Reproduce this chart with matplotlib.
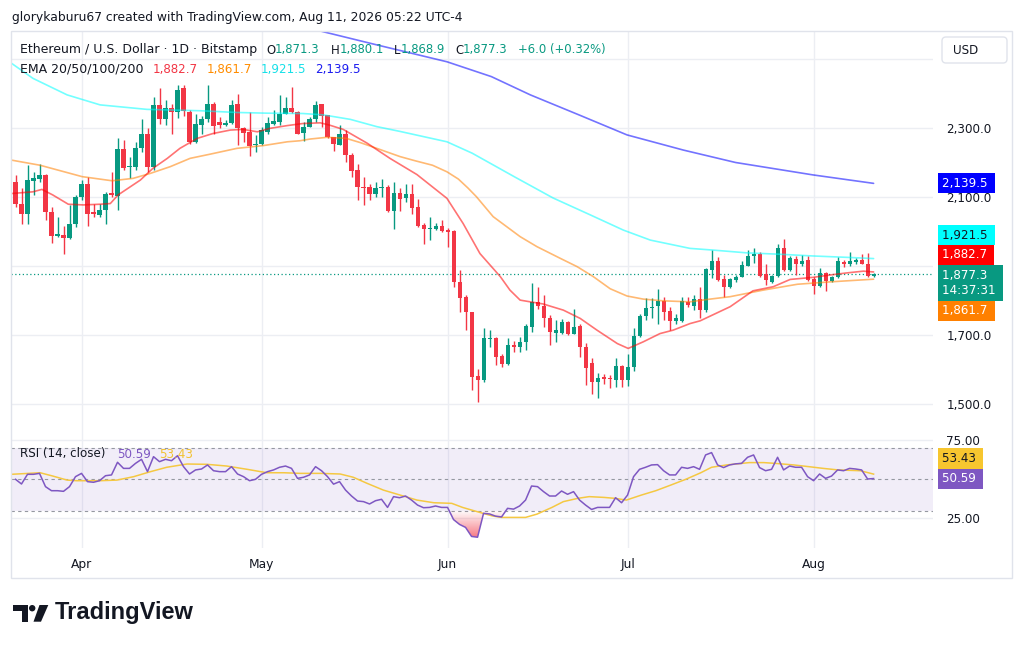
import numpy as np
import pandas as pd
import matplotlib
matplotlib.use("Agg")
import matplotlib.pyplot as plt
from matplotlib import transforms
from matplotlib.patches import Rectangle, Polygon, Circle, FancyBboxPatch
from matplotlib.colors import LinearSegmentedColormap
from matplotlib.path import Path

# ---------------- data ----------------
start_date = "2026-03-21"

opens = [2144,2081,2052,2146,2151,2165,2057,1987,1990,1980,
         2021,2101,2138,2057,2047,2062,2111,2103,2239,2186,
         2186,2243,2284,2188,2367,2325,2357,2347,2415,2347,
         2258,2310,2325,2371,2318,2308,2315,2369,2299,2289,
         2251,2253,2289,2313,2318,2342,2357,2347,2286,2304,
         2325,2369,2337,2273,2251,2283,2222,2178,2130,2128,
         2108,2125,2130,2060,2112,2096,2110,2070,2019,2006,
         2007,2016,2004,2002,1854,1811,1767,1582,1569,1687,
         1690,1639,1617,1672,1664,1680,1724,1796,1785,1750,
         1706,1707,1738,1703,1727,1666,1619,1564,1577,1574,
         1569,1610,1569,1608,1697,1755,1777,1784,1799,1769,
         1741,1741,1796,1784,1804,1772,1888,1915,1862,1838,
         1859,1869,1901,1929,1934,1876,1854,1871,1951,1888,
         1919,1905,1917,1861,1842,1880,1856,1867,1912,1906,
         1912,1916,1907,1871.3]
highs = [2164,2125,2193,2173,2196,2168,2072,2043,2016,2077,
         2106,2149,2159,2081,2081,2115,2173,2270,2265,2217,
         2260,2325,2299,2391,2415,2381,2371,2425,2424,2352,
         2342,2335,2424,2376,2333,2323,2381,2400,2304,2347,
         2279,2304,2333,2352,2395,2391,2420,2350,2318,2333,
         2379,2371,2339,2275,2308,2294,2227,2197,2159,2139,
         2144,2151,2135,2144,2125,2139,2139,2093,2024,2041,
         2024,2033,2009,2004,1888,1816,1767,1600,1719,1714,
         1695,1644,1690,1683,1695,1731,1850,1838,1816,1758,
         1743,1745,1741,1774,1731,1676,1632,1591,1588,1584,
         1632,1612,1645,1719,1761,1806,1806,1832,1809,1782,
         1762,1811,1811,1816,1840,1893,1946,1927,1874,1864,
         1874,1914,1946,1951,1941,1905,1874,1965,1977,1929,
         1929,1932,1929,1869,1893,1883,1871,1925,1917,1941,
         1922,1936,1938,1880.1]
lows = [2072,2023,2023,2106,2144,2033,1966,1985,1936,1978,
        2014,2091,2017,2043,2043,2022,2101,2062,2178,2154,
        2178,2231,2173,2178,2313,2309,2284,2330,2335,2255,
        2257,2284,2318,2284,2300,2305,2313,2251,2260,2219,
        2231,2251,2284,2308,2308,2342,2344,2282,2262,2302,
        2318,2302,2270,2234,2250,2202,2159,2091,2077,2091,
        2101,2101,2057,2006,2060,2086,2052,2014,1965,1975,
        2004,1999,1956,1840,1767,1714,1540,1506,1564,1666,
        1612,1606,1612,1651,1651,1656,1709,1775,1724,1670,
        1680,1704,1700,1702,1637,1554,1530,1516,1559,1545,
        1550,1550,1552,1596,1693,1743,1748,1732,1743,1714,
        1731,1738,1782,1772,1748,1767,1864,1856,1811,1835,
        1854,1867,1900,1908,1869,1845,1851,1869,1886,1886,
        1874,1901,1856,1820,1840,1828,1853,1864,1898,1901,
        1907,1905,1869,1868.9]
closes = [2081,2050,2149,2156,2165,2057,1987,1992,1980,2021,
          2101,2138,2052,2052,2062,2108,2106,2239,2183,2189,
          2243,2284,2188,2367,2325,2357,2347,2410,2350,2258,
          2313,2325,2371,2305,2308,2314,2367,2299,2286,2249,
          2255,2294,2315,2321,2342,2357,2347,2284,2304,2325,
          2367,2335,2273,2255,2283,2221,2176,2128,2125,2108,
          2125,2130,2060,2112,2093,2110,2067,2017,2006,2011,
          2016,2002,1999,1854,1806,1767,1579,1569,1690,1692,
          1637,1617,1672,1664,1680,1727,1796,1785,1748,1709,
          1714,1738,1703,1724,1664,1603,1564,1576,1571,1571,
          1610,1569,1608,1697,1755,1777,1782,1799,1767,1741,
          1748,1799,1787,1804,1772,1890,1915,1859,1838,1861,
          1869,1903,1929,1934,1871,1859,1871,1951,1888,1922,
          1905,1915,1859,1842,1880,1856,1867,1915,1906,1914,
          1916,1907,1871,1877.3]

ema20_idx = [-0.7,2.9,4.4,6.2,8.8,11.3,14.1,15.8,17.1,20.8,22.9,25.3,27.4,30.3,32.9,
             35.8,37.9,40.3,42.4,45.3,47.9,50.8,52.4,54.6,55.8,58.6,62.4,66.9,71.9,74.6,
             77.4,80.8,82.4,84.1,85.8,87.9,91.3,94.1,96.9,100.3,102.1,104.6,107.4,109.6,
             112.4,114.1,119.1,122.9,126.3,129.1,132.9,135.8,138.6,141.3,143]
ema20_val = [2110,2115,2122,2106,2079,2077,2079,2081,2106,2149,2183,2212,2241,2270,2284,
             2294,2296,2289,2299,2307,2313,2315,2308,2296,2284,2256,2212,2165,2096,2023,
             1936,1869,1830,1801,1796,1790,1772,1748,1714,1675,1661,1680,1704,1714,
             1733,1741,1782,1828,1840,1861,1867,1874,1880,1885,1882.7]

ema50_idx = [-0.7,4.1,11.1,16.1,19.6,22.4,25.8,29.1,32.4,36.9,41.3,45.3,47.4,49.1,51.9,
             55.1,57.4,60.2,64.1,66.6,69.5,71.9,73.8,75.4,76.8,79.6,84.1,86.9,90.8,93.6,
             96.3,99.1,101.9,104.6,107.9,112.4,115.3,119.1,124.6,130.3,135.8,143]
ema50_val = [2207,2192,2159,2147,2154,2168,2188,2212,2224,2241,2249,2260,2263,2268,2273,
             2270,2258,2241,2217,2205,2192,2173,2152,2126,2101,2043,1985,1956,1922,1898,
             1869,1834,1813,1804,1799,1796,1803,1811,1830,1847,1854,1861.7]

ema100_idx = [-0.7,2.9,8.6,14.1,21.9,30.8,36.9,41.9,47.9,51.3,55.8,60.2,64.1,71.9,76.1,
              83.1,89.6,95.8,101.3,105.8,112.4,116.3,121.9,127.4,132.9,138.6,143]
ema100_val = [2488,2444,2396,2367,2354,2350,2345,2343,2342,2338,2325,2304,2290,2260,2227,
              2159,2097,2048,2004,1975,1951,1946,1938,1934,1929,1925,1921.5]

ema200_idx = [44.0,51.3,60.2,71.9,79.3,85.8,93.9,101.9,111.3,120.0,132.9,143]
ema200_val = [2612,2579,2541,2492,2449,2396,2338,2280,2236,2200,2164,2139.5]

rsi = [50.1,47.1,53.3,53.3,53.9,45.4,42.8,42.8,42.4,45.4,
       51.8,53.9,48.6,48.2,49.2,52.4,52.9,61.0,57.1,57.1,
       60.3,62.9,55.0,64.6,61.4,62.9,62.0,65.2,58.2,53.5,
       56.1,56.7,59.3,55.6,55.0,55.0,58.2,53.5,51.8,49.2,
       50.1,53.3,55.0,56.1,57.8,58.6,57.1,50.7,51.4,52.9,
       58.2,55.6,51.8,47.0,48.6,43.2,39.4,36.2,35.8,34.3,
       36.4,37.3,32.1,39.0,38.3,39.4,36.8,33.6,31.9,32.1,
       33.0,32.1,32.1,24.3,21.2,19.3,13.5,13.0,28.3,27.9,
       26.5,26.0,31.5,31.0,33.0,36.8,45.8,45.4,42.2,39.4,
       39.4,42.6,40.5,42.2,36.8,33.6,30.8,32.1,32.1,32.1,
       38.3,35.1,40.0,51.8,56.5,57.8,59.3,59.5,55.6,52.9,
       52.9,57.8,57.1,58.2,56.5,65.7,67.2,59.3,57.6,59.3,
       60.0,60.3,64.2,65.7,57.6,55.6,56.5,64.2,56.1,58.6,
       57.8,57.8,51.8,49.2,53.5,50.7,52.2,56.1,55.6,57.1,
       56.7,56.1,50.3,50.59]

rsi_ma_idx = [-0.7,4.1,6.2,8.6,10.2,14.1,16.9,19.7,22.5,25.2,28.6,31.9,35.2,38.6,41.9,
              44.7,47.5,50.8,54.1,56.3,58.6,61.3,64.1,66.9,69.7,72.7,74.5,77.0,79.5,81.0,
              85.0,86.9,89.4,91.3,93.7,95.6,98.1,99.9,101.8,104.3,106.7,109.2,111.7,114.2,
              116.0,118.5,122.3,124.7,126.6,129.7,132.2,134.6,137.1,140.8,143]
rsi_ma_val = [53.3,54.3,52.2,49.6,49.2,49.2,49.6,51.8,55.0,57.8,59.9,59.7,58.6,56.5,54.3,
              54.3,53.9,53.9,53.5,51.4,47.5,43.2,40.0,36.8,35.1,34.7,32.1,29.3,26.6,25.7,
              25.7,27.8,32.1,35.8,37.9,39.0,38.5,37.9,36.8,40.0,42.8,46.4,50.1,54.3,
              57.8,59.3,60.8,60.8,60.3,59.3,58.2,57.1,56.1,55.6,53.43]

month_labels = ["Apr", "May", "Jun", "Jul", "Aug"]
month_dates = ["2026-04-01", "2026-05-01", "2026-06-01", "2026-07-01", "2026-08-01"]
price_ticks = [1500, 1700, 1900, 2100, 2300, 2500]
price_tick_labels = ["1,500.0", "1,700.0", "", "2,100.0", "2,300.0", ""]
rsi_ticks = [25, 75]
rsi_tick_labels = ["25.00", "75.00"]

last_o, last_h, last_l, last_c = "1,871.3", "1,880.1", "1,868.9", "1,877.3"
change_text = "+6.0 (+0.32%)"
countdown = "14:37:31"
ema_names = "EMA 20/50/100/200"
ema_last = ["1,882.7", "1,861.7", "1,921.5", "2,139.5"]
ema_last_val = [1882.7, 1861.7, 1921.5, 2139.5]
rsi_last, rsi_ma_last = 50.59, 53.43

# ---------------- style ----------------
plt.rcParams['font.family'] = ['DejaVu Sans']
UP, DN = '#089981', '#f23645'
TXT = '#131722'
GRID = '#eceef3'
C20, C50, C100, C200 = '#ff0000', '#ff8000', '#00ffff', '#0000ff'
RSI_C, MA_C = '#7e57c2', '#f5c842'

W, H = 1024, 648
fig = plt.figure(figsize=(W / 100, H / 100), dpi=100)
fig.patch.set_facecolor('white')
pix = transforms.Affine2D().scale(1 / W, -1 / H).translate(0, 1) + fig.transFigure

L, R = 11, 933
T_MAIN, B_MAIN, B_RSI = 31, 432, 548
ax = fig.add_axes([L / W, 1 - B_MAIN / H, (R - L) / W, (B_MAIN - T_MAIN) / H])
axr = fig.add_axes([L / W, 1 - B_RSI / H, (R - L) / W, (B_RSI - B_MAIN) / H], sharex=ax)

t0 = pd.Timestamp(start_date)
month_idx = [(pd.Timestamp(d) - t0).days for d in month_dates]
idx = np.arange(len(closes))
o, h, l, c = map(np.array, (opens, highs, lows, closes))

for a in (ax, axr):
    for s in a.spines.values():
        s.set_visible(False)
    a.set_facecolor('white')
    a.set_xticks(month_idx)
    a.tick_params(length=0, colors=TXT, labelsize=8.6)
    a.grid(True, color=GRID, lw=1, zorder=0)
    a.set_axisbelow(True)

ax.set_xlim(-0.75, 152.9)
ax.set_ylim(1418.7, 2581.2)
ax.set_yticks(price_ticks)
ax.set_yticklabels(price_tick_labels)
ax.tick_params(axis='y', labelleft=False, labelright=True, pad=9.5)
ax.tick_params(axis='x', labelbottom=False)

# candles
col = np.where(c >= o, UP, DN)
ax.vlines(idx, l, h, colors=col, lw=1, zorder=3)
ax.bar(idx, np.maximum(np.abs(c - o), 1.6), bottom=np.minimum(o, c), width=0.68,
       color=col, lw=0, zorder=4)

# EMAs
for xi, yv, cc in ((ema200_idx, ema200_val, C200), (ema100_idx, ema100_val, C100),
                   (ema50_idx, ema50_val, C50), (ema20_idx, ema20_val, C20)):
    ax.plot(xi, yv, color=cc, lw=1.2, alpha=0.55, zorder=5, solid_capstyle='round',
            solid_joinstyle='round')

ax.axhline(closes[-1], color=UP, lw=0.9, ls=(0, (1, 2)), zorder=2)

# ---------------- RSI pane ----------------
axr.set_ylim(6.1, 80.4)
axr.set_yticks(rsi_ticks)
axr.set_yticklabels(rsi_tick_labels)
axr.tick_params(axis='y', labelleft=False, labelright=True, pad=9.5)
axr.set_xticklabels(month_labels)
axr.tick_params(axis='x', pad=7, labelsize=8.8)
axr.axhspan(30, 70, color=RSI_C, alpha=0.1, lw=0, zorder=1)
for lvl in (70, 50, 30):
    axr.axhline(lvl, color='#9598a1', lw=0.8, ls=(0, (3, 3)), zorder=2)
r = np.array(rsi)
fb = axr.fill_between(idx, r, 30, where=r < 30, interpolate=True, color='none', lw=0)
cp = Path.make_compound_path(*fb.get_paths())
cmap = LinearSegmentedColormap.from_list('os', [(0.95, 0.21, 0.27, 0.85), (0.95, 0.21, 0.27, 0.0)])
grad = np.linspace(0, 1, 256).reshape(-1, 1)
im = axr.imshow(grad, extent=[-0.75, 152.9, 8, 30], origin='lower', cmap=cmap,
                aspect='auto', zorder=2, interpolation='bilinear')
im.set_clip_path(cp, transform=axr.transData)
axr.plot(rsi_ma_idx, rsi_ma_val, color=MA_C, lw=1.1, zorder=3)
axr.plot(idx, r, color=RSI_C, lw=1.1, zorder=4)
axr.set_xlim(-0.75, 152.9)
axr.set_ylim(6.1, 80.4)

# ---------------- badges ----------------
def badge(a, value, text, fc, tc, dy_px=0.0):
    tr = transforms.offset_copy(a.get_yaxis_transform(), fig=fig, x=9, y=dy_px, units='dots')
    a.text(1.0, value, text, transform=tr, ha='left', va='center', fontsize=8.6, color=tc,
           linespacing=1.25, zorder=20, clip_on=False,
           bbox=dict(boxstyle='square,pad=0.3', fc=fc, ec='none'))

ppx = (B_MAIN - T_MAIN) / (2581.2 - 1418.7)   # pixels per price unit
last = closes[-1]
def shift(v, target):   # target: pixel offset (up positive) relative to last price
    return target - (v - last) * ppx

badge(ax, ema_last_val[3], ema_last[3] + " ", '#0000ff', 'white')
badge(ax, ema_last_val[2], ema_last[2] + " ", '#00ffff', TXT, shift(ema_last_val[2], 38.5))
badge(ax, ema_last_val[0], ema_last[0] + " ", '#ff0000', 'white', shift(ema_last_val[0], 19))
badge(ax, last, last_c + " \n" + countdown + " ", UP, 'white', -9)
badge(ax, ema_last_val[1], ema_last[1] + " ", '#ff8000', 'white', shift(ema_last_val[1], -37))

rpx = (B_RSI - B_MAIN) / (80.4 - 6.1)
badge(axr, rsi_last, f"{rsi_last:.2f} ", RSI_C, 'white')
badge(axr, rsi_ma_last, f"{rsi_ma_last:.2f} ", '#f7c62f', TXT, 20 - (rsi_ma_last - rsi_last) * rpx)

# ---------------- frame / ui ----------------
fig.patches.append(Rectangle((11, 31), 1001, 547, transform=pix, fill=False,
                             ec='#e0e3eb', lw=1))
fig.patches.append(FancyBboxPatch((942, 37), 65, 26, boxstyle='round,pad=0,rounding_size=4',
                                  transform=pix, fc='white', ec='#e0e3eb', lw=1))
fig.text(953 / W, 1 - 50 / H, "USD", fontsize=8.6, color=TXT, va='center', ha='left')

renderer = fig.canvas.get_renderer()
def seq(x, y, pieces, fs=9.0):
    for s, cc in pieces:
        t = fig.text(x / W, 1 - y / H, s, color=cc, fontsize=fs, va='center', ha='left', zorder=30)
        x += t.get_window_extent(renderer).width

NUM = 8.4
seq(12, 18, [("glorykaburu67 created with TradingView.com, Aug 11, 2026 05:22 UTC-4", TXT)], 8.9)
seq(20, 50, [("Ethereum / U.S. Dollar · 1D · Bitstamp", TXT)])
seq(266, 50, [("O", TXT), (last_o, UP)], NUM)
seq(331, 50, [("H", TXT), (last_h, UP)], NUM)
seq(394, 50, [("L", TXT), (last_l, UP)], NUM)
seq(455, 50, [("C", TXT), (last_c, UP)], NUM)
seq(518, 50, [(change_text, UP)], NUM)
seq(20, 69, [(ema_names, TXT)])
for xp, s, cc in zip([153, 207, 261, 315], ema_last, ['#f23645', '#ff8c00', '#16e0e8', '#1c1cf0']):
    seq(xp, 69, [(s, cc)], 8.6)
seq(20, 454, [("RSI (14, close)", TXT)], 8.6)
seq(117, 454, [(f"{rsi_last:.2f}", RSI_C)], 8.6)
seq(159, 454, [(f"{rsi_ma_last:.2f}", '#f2c230')], 8.6)

# TradingView logo
fig.patches.append(Polygon([(13.3, 605), (28.3, 605), (28.3, 621.7), (21.7, 621.7),
                            (21.7, 610.7), (13.3, 610.7)], closed=True, transform=pix,
                           fc=TXT, ec='none'))
fig.patches.append(Circle((32.2, 608.2), 3.2, transform=pix, fc=TXT, ec='none'))
fig.patches.append(Polygon([(39.5, 605), (48.3, 605), (41, 621.7), (33.5, 621.7)],
                           closed=True, transform=pix, fc=TXT, ec='none'))
fig.text(55 / W, 1 - 613 / H, "TradingView", fontsize=17, fontweight='bold',
         family='Liberation Sans', color=TXT, va='center', ha='left')

fig.savefig("out.png", dpi=100, facecolor='white')
